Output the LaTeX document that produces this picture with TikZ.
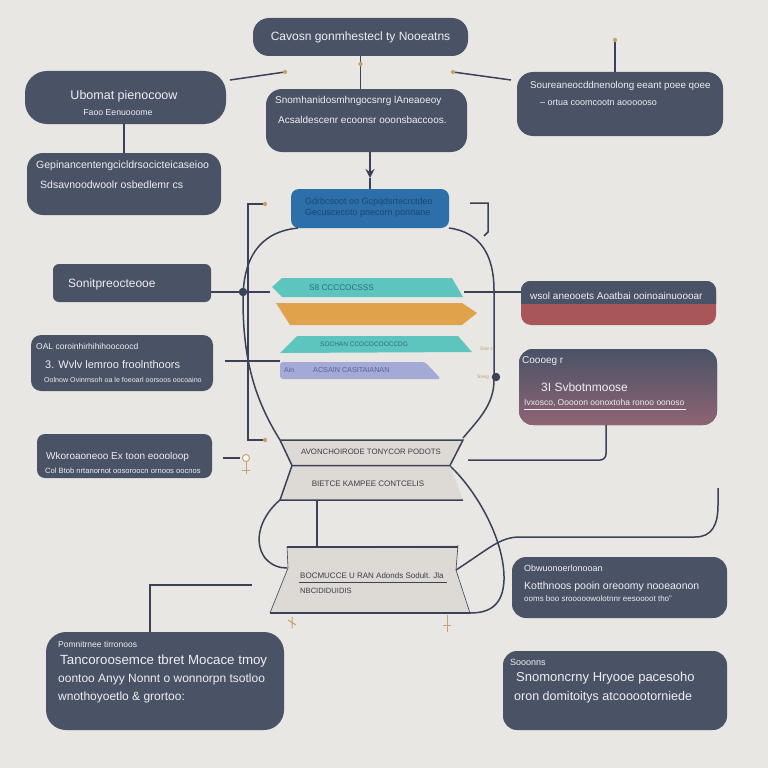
\documentclass[tikz,border=0pt]{standalone}
\usepackage{fontspec}
\setmainfont{Liberation Sans}
\usetikzlibrary{arrows.meta}
\definecolor{bg}{HTML}{E8E7E3}
\definecolor{slate}{HTML}{4A5266}
\definecolor{ink}{HTML}{3B4257}
\definecolor{paper}{HTML}{EEEFF2}
\definecolor{sea}{HTML}{2D6FA9}
\definecolor{seatext}{HTML}{1C4675}
\definecolor{teal}{HTML}{5EC5BE}
\definecolor{tealtext}{HTML}{2B6E79}
\definecolor{amber}{HTML}{E0A34B}
\definecolor{lilac}{HTML}{A4AAD6}
\definecolor{lilactext}{HTML}{5A6294}
\definecolor{rose}{HTML}{A9565A}
\definecolor{mauve}{HTML}{8E6474}
\definecolor{card}{HTML}{DDDAD5}
\definecolor{cardtext}{HTML}{3A3D48}
\definecolor{tan}{HTML}{C9A070}
\newcommand\fsz[1]{\fontsize{#1}{#1}\selectfont}

\begin{document}
\begin{tikzpicture}[x=1pt, y=-1pt]
\tikzset{box/.style={rectangle, fill=slate, inner sep=0pt},
t/.style={text=paper, inner sep=0pt, anchor=west},
c/.style={draw=ink, line width=1.5pt},
pin/.style={circle, fill=tan, inner sep=1.5pt},
dot/.style={circle, fill=ink, inner sep=3pt}}

\useasboundingbox (0,0) rectangle (768,768);
\fill[bg] (0,0) rectangle (768,768);

% dark cards
\foreach \n/\x/\y/\w/\h/\r in {top/360.5/37/215/38/16, ltop/125.5/97.5/201/53/22,
	lsec/124/184/194/62/16, cmid/366.5/120.5/201/63/16, rtop/620/104/206/64/16,
	lpro/132/283/158/38/6, lmid/122/363/182/56/10, llow/124.5/456/175/44/8,
	rlow/619.5/587.5/215/61/14, rbot/615/690.5/224/79/14, lbot/165/681/238/98/20} {
	\node[box, rounded corners=\r pt, minimum width=\w pt, minimum height=\h pt] (\n) at (\x,\y) {};
}
\node[box, fill=sea, rounded corners=8pt, minimum width=158pt, minimum height=39pt] (blue) at (370,208.5) {};
\node[box, fill=rose, rounded corners=10pt, minimum width=195pt, minimum height=44pt] (red) at (618.5,303) {};
\begin{scope}
	\clip (521,281) rectangle (716,303);
	\fill[slate, rounded corners=10pt] (red.north west) rectangle (red.south east);
\end{scope}
\node[box, rounded corners=14pt, top color=slate, bottom color=mauve, minimum width=198pt, minimum height=76pt] (grad) at (618,387) {};

% vase outline
\draw[c] (298,228) .. controls (258,232) and (243,260) .. (243,300) .. controls (243,360) and (255,400) .. (280,440);
\draw[c] (449,228) .. controls (480,232) and (494,255) .. (494,290) -- (494,380) .. controls (494,405) and (478,420) .. (463,438);
\draw[c] (450,466) .. controls (476,490) and (505,540) .. (504,580) .. controls (503,605) and (490,613) .. (470,613);
\draw[c] (280,500) .. controls (262,515) and (252,540) .. (265,558) .. controls (272,566) and (280,568) .. (287,568);

% funnel cards
\fill[card] (280,440) -- (463,440) -- (450,465) -- (292,465) -- cycle;
\fill[card] (292,466) -- (450,466) -- (463,500) -- (280,500) -- cycle;
\draw[c] (280,440) -- (463,440) -- (450,465.5) -- (292,465.5) -- cycle;
\draw[c] (292,465.5) -- (280,500) -- (463,500);
\fill[card] (287,547) -- (458,545) -- (456,570) -- (470,613) -- (270,613) -- (288,568) -- cycle;
\draw[c] (287,547) -- (458,547);
\draw[ink, line width=0.6pt] (458,545) -- (456,570) -- (470,613);
\draw[ink, line width=0.6pt] (287,547) -- (288,568) -- (270,613);
\draw[c] (270,613) -- (470,613);

% coloured tabs
\fill[teal] (272,287) -- (282,278) -- (452,278) -- (463,297) -- (282,297) -- cycle;
\fill[amber] (276,303) -- (462,303) -- (477,313) -- (462,325) -- (290,325) -- cycle;
\fill[teal] (297,336) -- (458,336) -- (472,352) -- (280,353) -- cycle;
\fill[lilac, rounded corners=3pt] (280,362) -- (425,362) -- (441,379) -- (280,379) -- cycle;

% connectors
\coordinate (a1) at (230,80); \coordinate (a2) at (285,72);
\coordinate (b1) at (453,72); \coordinate (b2) at (511,80);
\coordinate (r0) at (615,40);
\draw[c] (top.south) -- (top.south |- cmid.north);
\node[pin] (p0) at (360.5,64) {};
\draw[c] (a1) -- (a2); \node[pin] at (a2) {};
\draw[c] (b1) -- (b2); \node[pin] at (b1) {};
\draw[c] (r0) -- (r0 |- rtop.north); \node[pin] at (r0) {};
\draw[c] (lsec.north |- ltop.south) -- (lsec.north);
\coordinate (h) at (370,178);
\draw[c, -{Stealth[length=9pt, width=9pt]}] (cmid.south -| h) -- (h);
\draw[c] (h) -- (blue.north -| h);

\coordinate (lb1) at (265,204); \coordinate (lb2) at (265,440);
\draw[c] (lb1) -- (248,204) -- (248,440) -- (lb2);
\node[pin] at (lb1) {}; \node[pin] at (lb2) {};
\draw[c] (470,203) -- (488,203) -- (488,232) -- (484,236);

\coordinate (d1) at (243,292); \coordinate (d2) at (496,377);
\draw[c] (211,292) -- (270,292);
\node[dot] at (d1) {};
\draw[c] (464,292) -- (red.west |- 0,292);
\draw[c] (225,361) -- (280,361);
\node[dot] at (d2) {};
\draw[c, rounded corners=6pt] (grad.south -| 606,0) -- (606,460) -- (468,460);
\draw[c] (317,500) -- (317,547);
\draw[c] (456,570) .. controls (490,548) and (500,537) .. (520,537) -- (695,537) .. controls (712,537) and (718,525) .. (718,505) -- (718,488);
\draw[c] (lbot.north -| 150,0) -- (150,585) -- (252,585);
\draw[c] (223,458) -- (240,458);
\node[circle, draw=tan, fill=white, line width=1pt, inner sep=2.5pt] (key) at (246,458) {};
\draw[tan, line width=1pt] (key.south) -- (246,474) (242,470) -- (250,470);
\draw[tan, line width=1pt] (447,615) -- (447,632) (443,625) -- (451,625);
\draw[tan, line width=1pt] (288,620) -- (296,625) (292,617) -- (292,628);

% texts
\node[t, anchor=center, font=\fsz{12}] (ttop) at (top) {Cavosn gonmhestecl ty Nooeatns};
\node[t, anchor=center, font=\fsz{12.5}] (t1) at (124,96) {Ubomat pienocoow};
\node[t, anchor=center, font=\fsz{8.7}] (t2) at (118,113) {Faoo Eenuooome};
\node[t, font=\fsz{10.5}] (t3) at (36,166) {Gepinancentengcicldrsocicteicaseioo};
\node[t, font=\fsz{10.5}] (t4) at (40,185) {Sdsavnoodwoolr osbedlemr cs};
\node[t, font=\fsz{10}] (t5) at (275,101) {Snomhanidosmhngocsnrg lAneaoeoy};
\node[t, font=\fsz{10}] (t6) at (278,120) {Acsaldescenr ecoonsr ooonsbaccoos.};
\node[t, font=\fsz{9.8}] (t7) at (530,86) {Soureaneocddnenolong eeant poee qoee};
\node[t, font=\fsz{9}] (t8) at (540,103) {-- ortua coomcootn aoooooso};
\node[t, text=seatext, font=\fsz{9}] (t9) at (305,202) {Gdrbcsoot oo Gcpqdsrtecrctdeo};
\node[t, text=seatext, font=\fsz{9}] (t10) at (305,213) {Gecuscecoto pnecorn ponnane};
\node[t, text=tealtext, font=\fsz{8.2}] (tl1) at (309,288) {S8 CCCCOCSSS};
\node[t, text=tealtext, font=\fsz{6.5}] (tl2) at (320,344) {SOCHAN CCOCOCOOCCDG};
\node[t, text=lilactext, font=\fsz{7}] (lv1) at (284,370) {Ain};
\node[t, text=lilactext, font=\fsz{7.2}] (lv2) at (313,370) {ACSAIN CASITAIANAN};
\node[t, font=\fsz{12}] (t11) at (68,284) {Sonitpreocteooe};
\node[t, font=\fsz{8.5}] (t12) at (36,346) {OAL coroinhirhihihoocoocd};
\node[t, font=\fsz{11}] (t13) at (45,365) {3. Wvlv lemroo froolnthoors};
\node[t, font=\fsz{7.1}] (t14) at (44,380) {Oolnow Ovinrnsoh oa le foeoarl oorsoos oocoaino};
\node[t, font=\fsz{10}] (t15) at (46,457) {Wkoroaoneoo Ex toon eoooloop};
\node[t, font=\fsz{7.6}] (t16) at (45,471) {Col Btob nrtanornot oosoroocn ornoos oocnos};
\node[t, font=\fsz{10}] (t17) at (530,296) {wsol aneooets Aoatbai ooinoainuoooar};
\node[t, font=\fsz{10}] (t18) at (522,361) {Coooeg r};
\node[t, font=\fsz{12}] (t19) at (541,387) {3I Svbotnmoose};
\node[t, font=\fsz{8.5}] (t20) at (524,403) {Ivxosco, Ooooon oonoxtoha ronoo oonoso};
\draw[paper, line width=0.5pt] (524,409) -- (686,409);
\node[t, text=tan, font=\fsz{5}] (s1) at (480,349) {Sne s};
\node[t, text=tan, font=\fsz{5}] (s2) at (477,377) {Sneg};
\node[t, text=cardtext, anchor=center, font=\fsz{7.8}] (k1) at (371,452) {AVONCHOIRODE TONYCOR PODOTS};
\node[t, text=cardtext, anchor=center, font=\fsz{8}] (k2) at (368,484) {BIETCE KAMPEE CONTCELIS};
\node[t, text=cardtext, font=\fsz{8}] (k3) at (300,576) {BOCMUCCE U RAN Adonds Sodult. Jla};
\draw[ink, line width=0.8pt] (299,582) -- (447,582);
\node[t, text=cardtext, font=\fsz{7.6}] (k4) at (300,591) {NBCIDIDUIDIS};
\node[t, font=\fsz{9}] (t21) at (524,568) {Obwuonoerlonooan};
\node[t, font=\fsz{10.5}] (t22) at (524,587) {Kotthnoos pooin oreoomy nooeaonon};
\node[t, font=\fsz{8}] (t23) at (524,599) {ooms boo srooooowolotnnr eesoooot tho''};
\node[t, font=\fsz{9}] (t24) at (510,662) {Sooonns};
\node[t, font=\fsz{13}] (t25) at (516,678) {Snomoncrny Hryooe pacesoho};
\node[t, font=\fsz{12.5}] (t26) at (514,697) {oron domitoitys atcooootorniede};
\node[t, font=\fsz{8.5}] (t27) at (58,644) {Pomnitrnee tirronoos};
\node[t, font=\fsz{13.3}] (t28) at (60,661) {Tancoroosemce tbret Mocace tmoy};
\node[t, font=\fsz{12}] (t29) at (58,679) {oontoo Anyy Nonnt o wonnorpn tsotloo};
\node[t, font=\fsz{12}] (t30) at (58,697) {wnothoyoetlo \& grortoo:};
\end{tikzpicture}
\end{document}
